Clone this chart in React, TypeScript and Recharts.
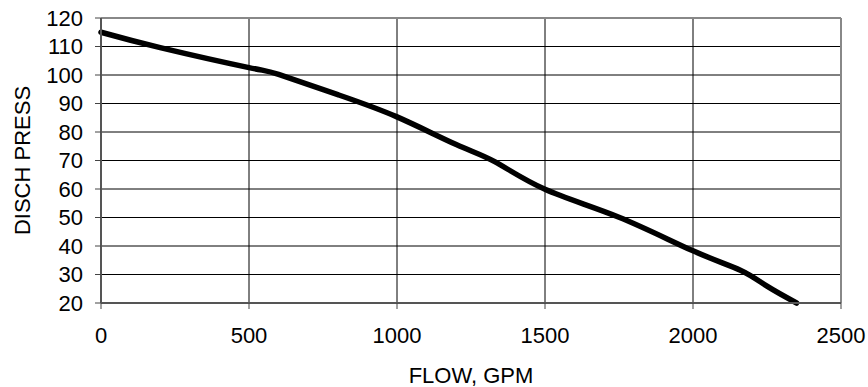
import React from "react";
import {
  LineChart,
  Line,
  XAxis,
  YAxis,
  CartesianGrid,
  ReferenceLine,
  Label,
} from "recharts";

const flowGpm = [0, 200, 500, 600, 800, 1000, 1200, 1330, 1500, 1750, 2000, 2160, 2250, 2350];
const dischPress = [115, 109.6, 102.6, 100.2, 93.1, 85.3, 75.6, 69.6, 59.9, 50.1, 38.3, 31.5, 25.9, 20];
const xTicks = [0, 500, 1000, 1500, 2000, 2500];
const yTicks = [20, 30, 40, 50, 60, 70, 80, 90, 100, 110, 120];
const xTitle = "FLOW, GPM";
const yTitle = "DISCH PRESS";

const data = flowGpm.map((f, i) => ({ flow: f, press: dischPress[i] }));

const FONT = "'Liberation Sans', Arial, sans-serif";
const tickStyle = { fill: "#000", fontSize: 22, fontFamily: FONT };

const YTitle = (props: any) => {
  const vb = props.viewBox || {};
  const cx = 22.5;
  const cy = vb.y + vb.height / 2;
  return (
    <text
      x={cx}
      y={cy}
      transform={`rotate(-90 ${cx} ${cy})`}
      textAnchor="middle"
      dominantBaseline="central"
      fill="#000"
      fontSize={22}
      fontFamily={FONT}
    >
      {yTitle}
    </text>
  );
};

export default function App() {
  return (
    <div style={{ position: "absolute", left: 0, top: 0, width: 868, height: 387, background: "#fff" }}>
      <LineChart
        width={868}
        height={387}
        data={data}
        margin={{ top: 18, right: 27, bottom: 0, left: 0 }}
      >
        <CartesianGrid stroke="#000" strokeWidth={1} />
        <XAxis
          dataKey="flow"
          type="number"
          domain={[0, 2500]}
          ticks={xTicks}
          interval={0}
          height={84}
          tickSize={6}
          tickMargin={18}
          tick={tickStyle}
          stroke="#555"
          strokeWidth={2}
          tickLine={{ stroke: "#444", strokeWidth: 1 }}
        >
          <Label
            value={xTitle}
            position="insideBottom"
            offset={4}
            style={{ fill: "#000", fontSize: 22, fontFamily: FONT }}
          />
        </XAxis>
        <YAxis
          dataKey="press"
          type="number"
          domain={[20, 120]}
          ticks={yTicks}
          interval={0}
          width={101}
          tickSize={6}
          tickMargin={12}
          tick={tickStyle}
          stroke="#555"
          strokeWidth={2}
          tickLine={{ stroke: "#444", strokeWidth: 1 }}
        >
          <Label content={YTitle} position="center" />
        </YAxis>
        <ReferenceLine y={120} stroke="#888" strokeWidth={2} />
        <ReferenceLine x={2500} stroke="#888" strokeWidth={2} />
        <Line
          type="natural"
          dataKey="press"
          stroke="#000"
          strokeWidth={5.5}
          dot={false}
          strokeLinecap="round"
          strokeLinejoin="round"
          isAnimationActive={false}
        />
      </LineChart>
    </div>
  );
}
